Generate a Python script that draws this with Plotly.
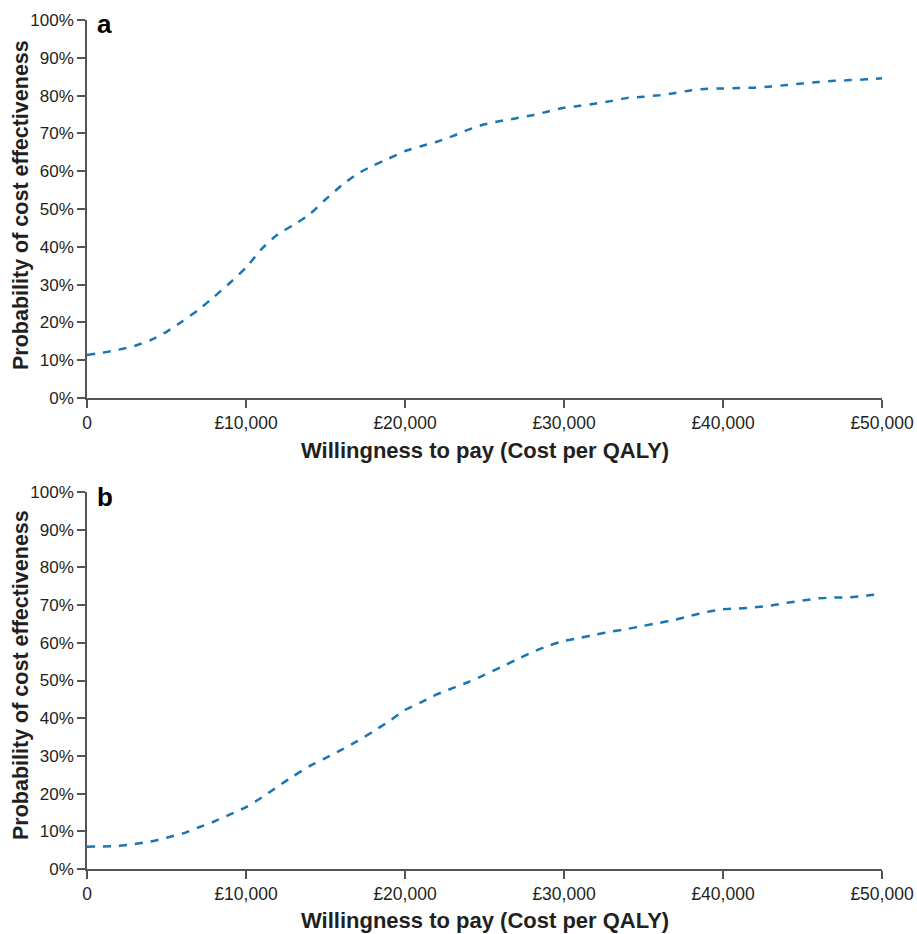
import plotly.graph_objects as go

# ---- data ----
wtp = [i * 1000 for i in range(51)]

prob_a = [11.4, 12.0, 12.8, 13.8, 15.3, 17.5, 20.3, 23.3, 26.8, 30.5,
          34.5, 39.5, 43.3, 45.8, 48.6, 52.5, 56.2, 59.3, 61.5, 63.4,
          65.3, 66.6, 67.8, 69.3, 71.0, 72.4, 73.3, 74.0, 74.8, 75.8,
          76.8, 77.3, 77.9, 78.6, 79.4, 79.7, 80.1, 80.7, 81.4, 81.8,
          81.9, 82.0, 82.1, 82.4, 82.8, 83.2, 83.6, 83.9, 84.1, 84.3,
          84.6]

prob_b = [5.9, 6.0, 6.1, 6.6, 7.3, 8.3, 9.4, 11.0, 12.6, 14.5,
          16.4, 19.0, 21.9, 24.7, 27.3, 29.4, 31.6, 33.9, 36.5, 39.2,
          42.2, 44.2, 46.3, 48.0, 49.6, 51.5, 53.5, 55.5, 57.5, 59.2,
          60.5, 61.3, 62.2, 63.0, 63.7, 64.5, 65.3, 66.1, 67.2, 68.2,
          68.9, 69.1, 69.4, 69.9, 70.6, 71.2, 71.8, 72.0, 72.1, 72.5,
          73.0]

x_tickvals = [0, 10000, 20000, 30000, 40000, 50000]
x_ticktext = ["0", "£10,000", "£20,000", "£30,000", "£40,000", "£50,000"]
y_tickvals = list(range(0, 101, 10))
y_ticktext = [f"{v}%" for v in y_tickvals]

panel_labels = ["a", "b"]
x_title = "Willingness to pay (Cost per QALY)"
y_title = "Probability of cost effectiveness"

# ---- figure ----
FONT = "Liberation Sans, Arial, Helvetica, sans-serif"
TXT = "#231f20"
LINE_COLOR = "#1a76b3"
AX_COLOR = "#555555"

H, W = 934, 917
L, R, T, B = 87, 35, 20, 65
PH = H - T - B
PW = W - L - R


def py(pix):
    """window pixel y -> paper y"""
    return (H - B - pix) / PH


def px(pix):
    """window pixel x -> paper x"""
    return (pix - L) / PW


fig = go.Figure()
line_style = dict(color=LINE_COLOR, width=2.5, dash="8px,8px",
                  shape="spline", smoothing=0.5)
fig.add_trace(go.Scatter(x=wtp, y=prob_a, mode="lines", xaxis="x", yaxis="y",
                         line=line_style, showlegend=False))
fig.add_trace(go.Scatter(x=wtp, y=prob_b, mode="lines", xaxis="x2", yaxis="y2",
                         line=line_style, showlegend=False))

xaxis_common = dict(range=[0, 50000], tickvals=x_tickvals, ticktext=x_ticktext,
                    showline=True, linecolor=AX_COLOR, linewidth=1.5,
                    ticks="outside", ticklen=8, tickcolor=AX_COLOR, tickwidth=1.5,
                    showgrid=False, zeroline=False,
                    tickfont=dict(family=FONT, size=17.5, color=TXT),
                    automargin=False)
yaxis_common = dict(range=[0, 100], tickvals=y_tickvals, ticktext=y_ticktext,
                    showline=True, linecolor=AX_COLOR, linewidth=1.5,
                    ticks="outside", ticklen=8, tickcolor=AX_COLOR, tickwidth=1.5,
                    showgrid=False, zeroline=False,
                    tickfont=dict(family=FONT, size=17, color=TXT),
                    automargin=False)

fig.update_layout(
    width=W, height=H,
    margin=dict(l=L, r=R, t=T, b=B),
    paper_bgcolor="white", plot_bgcolor="white",
    xaxis=dict(domain=[0, 1], anchor="y", **xaxis_common),
    yaxis=dict(domain=[py(398), 1], anchor="x", **yaxis_common),
    xaxis2=dict(domain=[0, 1], anchor="y2", **xaxis_common),
    yaxis2=dict(domain=[0, py(492)], anchor="x2", **yaxis_common),
)

annotations = []
# x titles
for ypix in (450, 920):
    annotations.append(dict(text=f"<b>{x_title}</b>", x=0.5, y=py(ypix),
                            xref="paper", yref="paper", showarrow=False,
                            xanchor="center", yanchor="middle",
                            font=dict(family=FONT, size=22, color=TXT)))
# y titles
for ypix in (205, 675):
    annotations.append(dict(text=f"<b>{y_title}</b>", x=px(21), y=py(ypix),
                            xref="paper", yref="paper", showarrow=False,
                            xanchor="center", yanchor="middle", textangle=-90,
                            font=dict(family=FONT, size=21.5, color=TXT)))
# panel labels
for lab, ypix in zip(panel_labels, (24, 497)):
    annotations.append(dict(text=f"<b>{lab}</b>", x=px(95), y=py(ypix),
                            xref="paper", yref="paper", showarrow=False,
                            xanchor="left", yanchor="middle",
                            font=dict(family=FONT, size=26, color="#000000")))

fig.update_layout(annotations=annotations)

fig.write_html(
    "out.html",
    config={"displayModeBar": False},
    post_script="document.body.style.margin='0';"
                "document.body.style.padding='0';"
                "document.body.style.overflow='hidden';",
)
